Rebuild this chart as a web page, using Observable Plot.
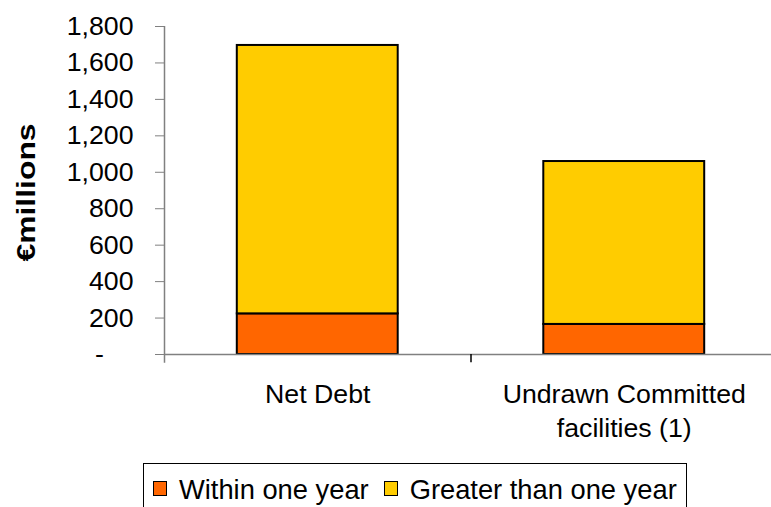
<!DOCTYPE html>
<html>
<head>
<meta charset="utf-8">
<script src="https://cdn.jsdelivr.net/npm/d3@7"></script>
<script src="https://cdn.jsdelivr.net/npm/@observablehq/plot@0.6"></script>
<style>
  html, body { margin: 0; padding: 0; background: #fff; overflow: hidden; }
  body { position: relative; width: 771px; height: 507px; font-family: "Liberation Sans", Arial, sans-serif; }
  #chart svg { display: block; }
  #legend {
    position: absolute; left: 143px; top: 463px; width: 544px; height: 60px;
    border: 1px solid #000; box-sizing: border-box;
    font-size: 27.3px; color: #000; display: flex; align-items: flex-start;
    padding-top: 10px; padding-left: 9px; white-space: nowrap; line-height: 1.2;
  }
  .sw { display: inline-block; width: 12px; height: 13px; border: 1px solid #000; margin-top: 7px; }
  .item { display: flex; align-items: flex-start; }
  .item span.t { margin-left: 12px; }
</style>
</head>
<body>
<div id="chart"></div>
<div id="legend"></div>
<script>
const categories = ["Net Debt", "Undrawn Committed\nfacilities (1)"];
const seriesNames = ["Within one year", "Greater than one year"];
const withinOneYear = [223, 165];
const greaterThanOneYear = [1473, 894];
const seriesColors = ["#FF6600", "#FFCC00"];
const yTicks = [0, 200, 400, 600, 800, 1000, 1200, 1400, 1600, 1800];
const yLabel = "€millions";

const rows = categories.flatMap((c, i) => [
  {category: c, series: seriesNames[0], value: withinOneYear[i]},
  {category: c, series: seriesNames[1], value: greaterThanOneYear[i]}
]);

const halfStep = 153.25;
const fmt = d3.format(",");

const chart = Plot.plot({
  width: 771,
  height: 460,
  marginTop: 26,
  marginBottom: 106,
  marginLeft: 164,
  marginRight: 0,
  style: {fontFamily: "'Liberation Sans', Arial, sans-serif", background: "#fff", color: "#000"},
  x: {domain: categories, range: [164, 777], paddingInner: 0.475, paddingOuter: 0.2375, round: false},
  y: {domain: [0, 1800], clamp: false},
  color: {domain: seriesNames, range: seriesColors},
  marks: [
    Plot.barY(rows, {x: "category", y: "value", fill: "series", stroke: "#000", strokeWidth: 2}),
    Plot.ruleY([0], {stroke: "#808080", strokeWidth: 1.5}),
    Plot.ruleX([categories[0]], {x: d => d, dx: -halfStep, y1: -48, y2: 1800, stroke: "#808080", strokeWidth: 1.5}),
    Plot.ruleX([categories[1]], {x: d => d, dx: -halfStep, y1: -45, y2: 0, stroke: "#000", strokeWidth: 1.5}),
    Plot.axisY({ticks: yTicks, tickFormat: d => d === 0 ? "-\u00a0\u00a0\u00a0\u00a0" : fmt(d), tickSize: 9, tickPadding: 22, fontSize: 26.7, stroke: "#808080", fill: "#000", label: null}),
    Plot.axisX({tickSize: 0, tickPadding: 24, fontSize: 26.7, lineHeight: 1.28, label: null, fill: "#000"}),
    Plot.text([yLabel], {frameAnchor: "left", textAnchor: "middle", dx: -138, dy: 2, rotate: -90, fontSize: 25.5, fontWeight: "bold", fill: "#000", className: "ylab"})
  ]
});
document.getElementById("chart").appendChild(chart);
const yl = chart.querySelector(".ylab text");
if (yl) {
  const tr = yl.getAttribute("transform") || "";
  yl.setAttribute("transform", tr + " scale(1.25,1)");
}

const legend = document.getElementById("legend");
seriesNames.forEach((name, i) => {
  const item = document.createElement("div");
  item.className = "item";
  item.style.marginRight = i === 0 ? "15px" : "0";
  const sw = document.createElement("span");
  sw.className = "sw";
  sw.style.background = seriesColors[i];
  const t = document.createElement("span");
  t.className = "t";
  t.textContent = name;
  item.appendChild(sw);
  item.appendChild(t);
  legend.appendChild(item);
});
</script>
</body>
</html>
